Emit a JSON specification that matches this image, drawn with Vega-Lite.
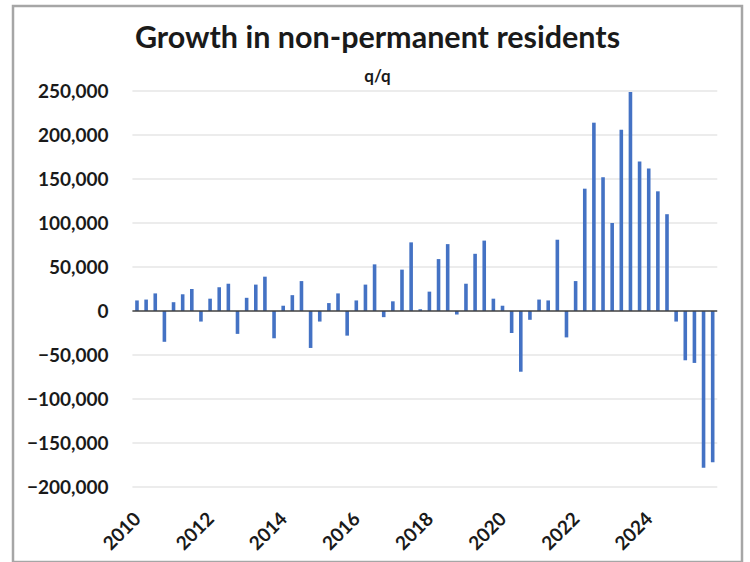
{
  "$schema": "https://vega.github.io/schema/vega-lite/v6.json",
  "width": 729,
  "height": 556,
  "autosize": {"type": "none"},
  "padding": {"left": 13, "top": 6, "right": 8, "bottom": 0},
  "background": "white",
  "config": {
    "view": {"stroke": "#a6a6a6", "strokeWidth": 2.5},
    "font": "Lato"
  },
  "title": {
    "text": "Growth in non-permanent residents",
    "subtitle": "q/q",
    "font": "Lato",
    "fontSize": 30.5,
    "fontWeight": "bold",
    "color": "#1a1a1a",
    "subtitleFont": "Lato",
    "subtitleFontSize": 17,
    "subtitleFontWeight": "bold",
    "subtitleColor": "#1a1a1a",
    "subtitlePadding": 15,
    "anchor": "middle",
    "frame": "group",
    "offset": -79
  },
  "datasets": {
    "growth": [
      {"n": 1, "v": 12000}, {"n": 2, "v": 13000}, {"n": 3, "v": 20000}, {"n": 4, "v": -35000},
      {"n": 5, "v": 10000}, {"n": 6, "v": 19000}, {"n": 7, "v": 25000}, {"n": 8, "v": -12000},
      {"n": 9, "v": 14000}, {"n": 10, "v": 27000}, {"n": 11, "v": 31000}, {"n": 12, "v": -26000},
      {"n": 13, "v": 15000}, {"n": 14, "v": 30000}, {"n": 15, "v": 39000}, {"n": 16, "v": -31000},
      {"n": 17, "v": 6000}, {"n": 18, "v": 18000}, {"n": 19, "v": 34000}, {"n": 20, "v": -42000},
      {"n": 21, "v": -12000}, {"n": 22, "v": 9000}, {"n": 23, "v": 20000}, {"n": 24, "v": -28000},
      {"n": 25, "v": 12000}, {"n": 26, "v": 30000}, {"n": 27, "v": 53000}, {"n": 28, "v": -7000},
      {"n": 29, "v": 11000}, {"n": 30, "v": 47000}, {"n": 31, "v": 78000}, {"n": 32, "v": 2000},
      {"n": 33, "v": 22000}, {"n": 34, "v": 59000}, {"n": 35, "v": 76000}, {"n": 36, "v": -4000},
      {"n": 37, "v": 31000}, {"n": 38, "v": 65000}, {"n": 39, "v": 80000}, {"n": 40, "v": 14000},
      {"n": 41, "v": 6000}, {"n": 42, "v": -25000}, {"n": 43, "v": -69000}, {"n": 44, "v": -10000},
      {"n": 45, "v": 13000}, {"n": 46, "v": 12000}, {"n": 47, "v": 81000}, {"n": 48, "v": -30000},
      {"n": 49, "v": 34000}, {"n": 50, "v": 139000}, {"n": 51, "v": 214000}, {"n": 52, "v": 152000},
      {"n": 53, "v": 100000}, {"n": 54, "v": 206000}, {"n": 55, "v": 249000}, {"n": 56, "v": 170000},
      {"n": 57, "v": 162000}, {"n": 58, "v": 136000}, {"n": 59, "v": 110000}, {"n": 60, "v": -12000},
      {"n": 61, "v": -56000}, {"n": 62, "v": -59000}, {"n": 63, "v": -178000}, {"n": 64, "v": -172000}
    ],
    "gridlines": [
      {"g": -200000}, {"g": -150000}, {"g": -100000}, {"g": -50000}, {"g": 50000},
      {"g": 100000}, {"g": 150000}, {"g": 200000}, {"g": 250000}
    ]
  },
  "layer": [
    {
      "data": {"name": "gridlines"},
      "mark": {"type": "rule", "stroke": "#d9d9d9", "strokeWidth": 1.2},
      "encoding": {
        "x": {
          "datum": 0.5,
          "type": "quantitative",
          "scale": {"domain": [-12.02, 66.66], "nice": false, "zero": false},
          "axis": {
            "orient": "bottom",
            "offset": -75,
            "values": [1, 9, 17, 25, 33, 41, 49, 57],
            "labelExpr": "'' + (2010 + (datum.value - 1) / 4)",
            "labelAngle": -45,
            "labelOffset": -6,
            "labelFont": "Lato",
            "labelFontSize": 19,
            "labelFontWeight": "bold",
            "labelColor": "#1a1a1a",
            "labelPadding": 22,
            "grid": false,
            "domain": false,
            "ticks": false,
            "title": null
          }
        },
        "x2": {"datum": 64.5},
        "y": {
          "field": "g",
          "type": "quantitative",
          "scale": {"domain": [-285227, 346591], "nice": false, "zero": false},
          "axis": {
            "orient": "left",
            "offset": -116,
            "values": [-200000, -150000, -100000, -50000, 0, 50000, 100000, 150000, 200000, 250000],
            "format": ",.0f",
            "labelFont": "Lato",
            "labelFontSize": 19,
            "labelFontWeight": "bold",
            "labelColor": "#1a1a1a",
            "labelPadding": 21,
            "grid": false,
            "domain": false,
            "ticks": false,
            "title": null
          }
        }
      }
    },
    {
      "data": {"name": "growth"},
      "mark": {"type": "bar", "width": 3.6, "color": "#4472c4"},
      "encoding": {
        "x": {"field": "n", "type": "quantitative"},
        "y": {"field": "v", "type": "quantitative"},
        "y2": {"datum": 0}
      }
    },
    {
      "data": {"values": [{"base": 0}]},
      "mark": {"type": "rule", "stroke": "#404040", "strokeWidth": 1.5},
      "encoding": {
        "x": {"datum": 0.5, "type": "quantitative"},
        "x2": {"datum": 64.5},
        "y": {"field": "base", "type": "quantitative"}
      }
    }
  ]
}
